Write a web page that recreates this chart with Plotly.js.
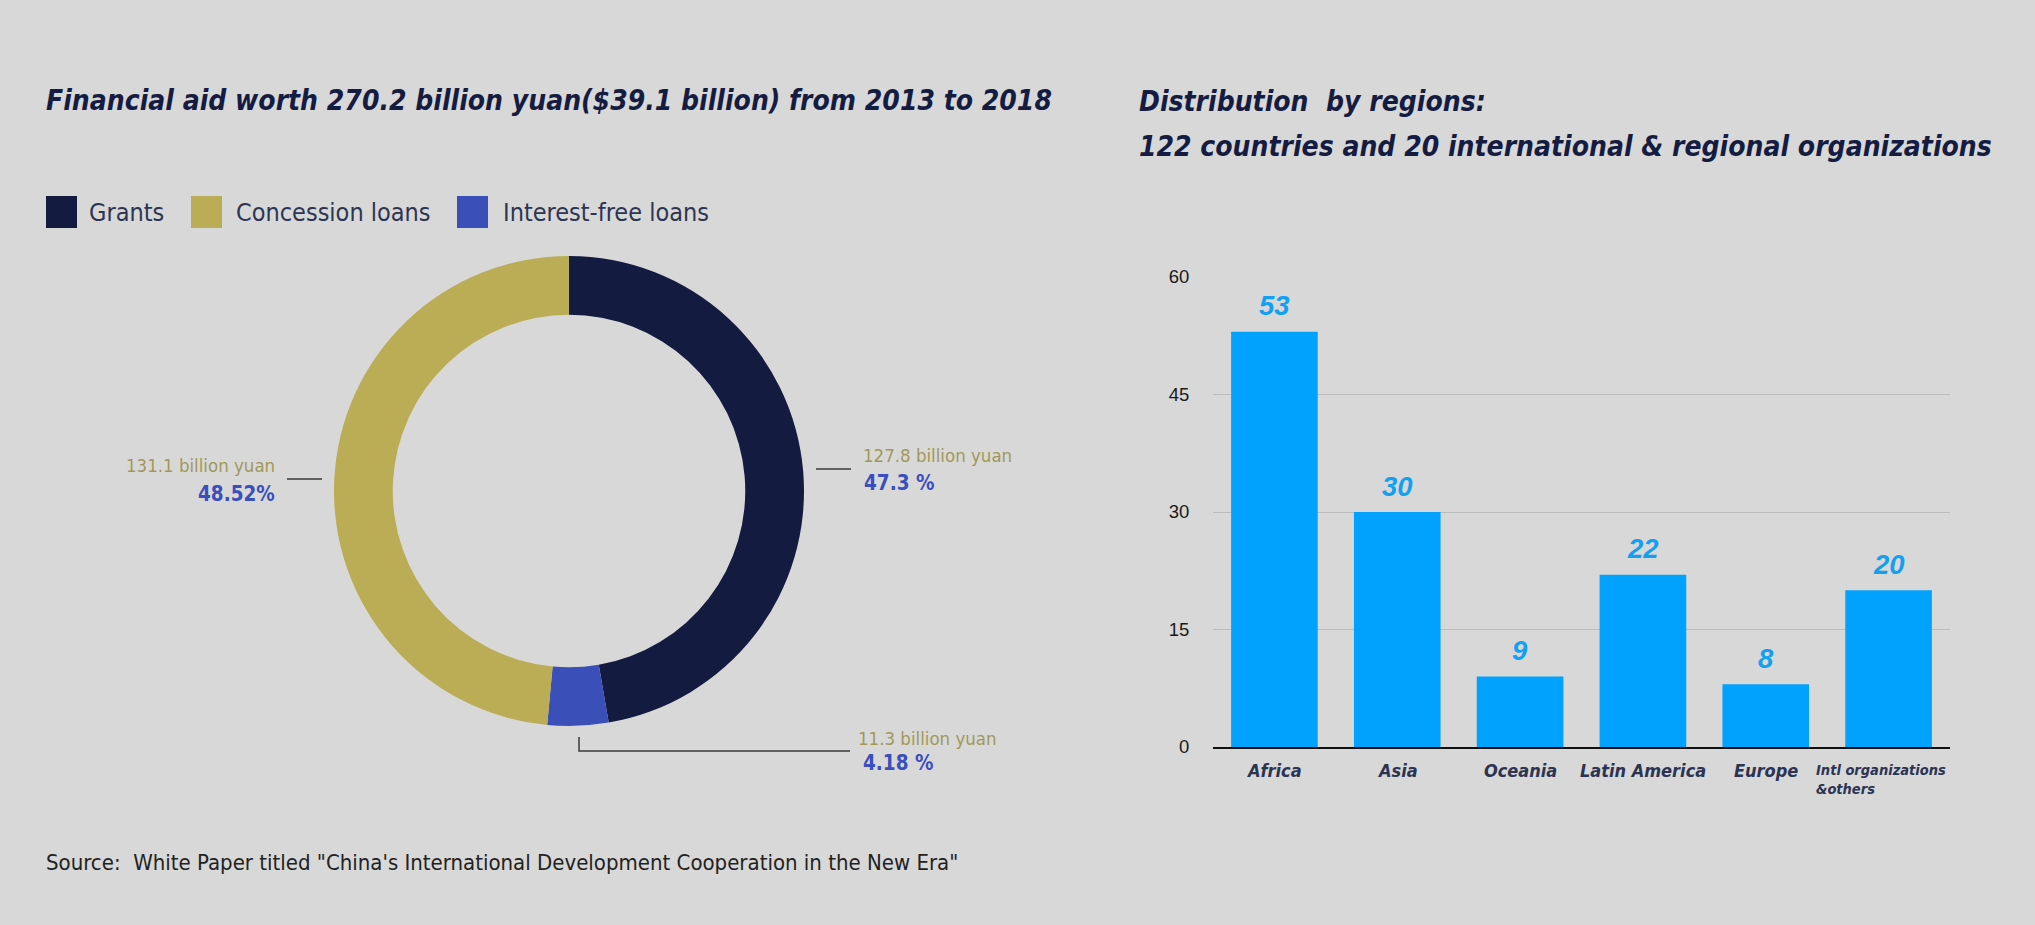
<!DOCTYPE html>
<html>
<head>
<meta charset="utf-8">
<script src="https://cdn.plot.ly/plotly-3.0.1.min.js"></script>
<style>
html,body{margin:0;padding:0;background:#d8d8d8;}
#chart{width:2035px;height:925px;}
</style>
</head>
<body>
<div id="chart"></div>
<script>
// ---- data ----
const aidTypes = ['Grants', 'Interest-free loans', 'Concession loans'];
const aidValues = [127.8, 11.3, 131.1];           // billion yuan
const aidPercentLabels = ['47.3 %', '4.18 %', '48.52%'];
const aidColors = ['#141b41', '#3a4fb8', '#bbad55'];

const legendOrder = ['Grants', 'Concession loans', 'Interest-free loans'];

const regions = ['Africa', 'Asia', 'Oceania', 'Latin America', 'Europe', 'Intl organizations<br>&others'];
const regionCounts = [53, 30, 9, 22, 8, 20];
const yTicks = [0, 15, 30, 45, 60];

// ---- helpers (pixel -> paper) ----
const W = 2035, H = 925;
const px = x => x / W;
const py = y => 1 - y / H;

const NARROW = '"DejaVu Sans Condensed", "Liberation Sans Narrow", sans-serif';
const COND = '"DejaVu Sans Condensed", "Liberation Sans Narrow", sans-serif';
const titleColor = '#151c42';
const olive = '#a1985a';
const blueTxt = '#3a4fbd';

const pie = {
  type: 'pie',
  labels: aidTypes,
  values: aidValues,
  marker: {colors: aidColors, line: {width: 0}},
  hole: 0.75,
  sort: false,
  direction: 'clockwise',
  rotation: 0,
  textinfo: 'none',
  hoverinfo: 'label+value',
  showlegend: false,
  domain: {x: [px(569 - 235), px(569 + 235)], y: [py(491 + 235), py(491 - 235)]}
};

const bars = {
  type: 'bar',
  x: regions,
  y: regionCounts,
  xaxis: 'x', yaxis: 'y',
  marker: {color: '#00a2fd'},
  showlegend: false,
  hoverinfo: 'x+y'
};

const annotations = [];
const shapes = [];

function note(text, x, y, opts) {
  annotations.push(Object.assign({
    text: text, x: px(x), y: py(y), xref: 'paper', yref: 'paper',
    showarrow: false, xanchor: 'left', yanchor: 'middle'
  }, opts));
}

// titles
const titleFont = {family: NARROW, size: 28, color: titleColor, weight: 'bold', style: 'italic'};
note('Financial aid worth 270.2 billion yuan($39.1 billion) from 2013 to 2018', 44, 100, {font: titleFont});
note('Distribution  by regions:', 1137, 102, {font: titleFont});
note('122 countries and 20 international & regional organizations', 1137, 147, {font: titleFont});

// legend (manual)
const legendBoxX = [46, 191, 457];
const legendTextX = [87, 234, 501];
legendOrder.forEach((name, i) => {
  const c = aidColors[aidTypes.indexOf(name)];
  shapes.push({type: 'rect', xref: 'paper', yref: 'paper',
    x0: px(legendBoxX[i]), x1: px(legendBoxX[i] + 31), y0: py(228), y1: py(196),
    fillcolor: c, line: {width: 0}});
  note(name, legendTextX[i], 213, {font: {family: COND, size: 25, color: '#2d3553'}});
});

// donut labels
const lineStyle = {color: '#3a3a3a', width: 1.5};
const valFont = {family: NARROW, size: 18.5, color: olive};
const pctFont = {family: NARROW, size: 20.5, color: blueTxt, weight: 'bold'};
// Grants (right)
shapes.push({type: 'line', xref: 'paper', yref: 'paper', x0: px(816), x1: px(851), y0: py(469), y1: py(469), line: lineStyle});
note(aidValues[0] + ' billion yuan', 861, 455, {font: valFont});
note(aidPercentLabels[0], 862, 483, {font: pctFont});
// Interest-free (bottom)
shapes.push({type: 'path', xref: 'paper', yref: 'paper',
  path: `M ${px(579)} ${py(737)} L ${px(579)} ${py(751)} L ${px(850)} ${py(751)}`, line: lineStyle});
note(aidValues[1] + ' billion yuan', 856, 738, {font: valFont});
note(aidPercentLabels[1], 861, 763, {font: pctFont});
// Concession (left)
shapes.push({type: 'line', xref: 'paper', yref: 'paper', x0: px(287), x1: px(322), y0: py(479), y1: py(479), line: lineStyle});
note(aidValues[2] + ' billion yuan', 277, 466, {xanchor: 'right', font: valFont});
note(aidPercentLabels[2], 277, 494, {xanchor: 'right', font: pctFont});

// bar value labels
regions.forEach((r, i) => {
  annotations.push({
    text: String(regionCounts[i]), x: r, xref: 'x', y: regionCounts[i], yref: 'y',
    showarrow: false, xanchor: 'center', yanchor: 'middle', yshift: 26,
    font: {family: '"Liberation Sans", Arial, sans-serif', size: 27.5, color: '#14a0f0', weight: 'bold', style: 'italic'}
  });
});

// category labels for bars
regions.forEach((r, i) => {
  const multi = r.indexOf('<br>') >= 0;
  annotations.push({
    text: r, x: r, xref: 'x', y: py(multi ? 779 : 770), yref: 'paper',
    showarrow: false, xanchor: 'center', yanchor: 'middle', align: 'left',
    xshift: multi ? -8 : 0,
    font: {family: NARROW, size: multi ? 14.5 : 18, color: '#2b3452', weight: 'bold', style: 'italic'}
  });
});

// source
note('Source:  White Paper titled "China\'s International Development Cooperation in the New Era"', 44, 862,
  {font: {family: COND, size: 22, color: '#222222'}});

const layout = {
  width: W, height: H,
  margin: {l: 0, r: 0, t: 0, b: 0},
  paper_bgcolor: '#d8d8d8',
  plot_bgcolor: '#d8d8d8',
  showlegend: false,
  bargap: 0.295,
  xaxis: {
    domain: [px(1213), px(1950)],
    type: 'category',
    range: [-0.5, regions.length - 0.5],
    autorange: false,
    showticklabels: false,
    ticks: '',
    showgrid: false,
    showline: true, linecolor: '#111111', linewidth: 2,
    zeroline: false, fixedrange: true
  },
  yaxis: {
    domain: [py(747), py(277)],
    range: [0, 60],
    autorange: false,
    tickvals: yTicks,
    ticktext: yTicks.map(String),
    ticks: 'outside', ticklen: 19, tickcolor: 'rgba(0,0,0,0)',
    tickfont: {family: '"Liberation Sans", Arial, sans-serif', size: 18.5, color: '#1a1a1a'},
    showgrid: true, gridcolor: '#bcbcbc', gridwidth: 1,
    zeroline: false, showline: false, fixedrange: true
  },
  annotations: annotations,
  shapes: shapes
};

Plotly.newPlot('chart', [pie, bars], layout, {displayModeBar: false, staticPlot: true});
</script>
</body>
</html>
